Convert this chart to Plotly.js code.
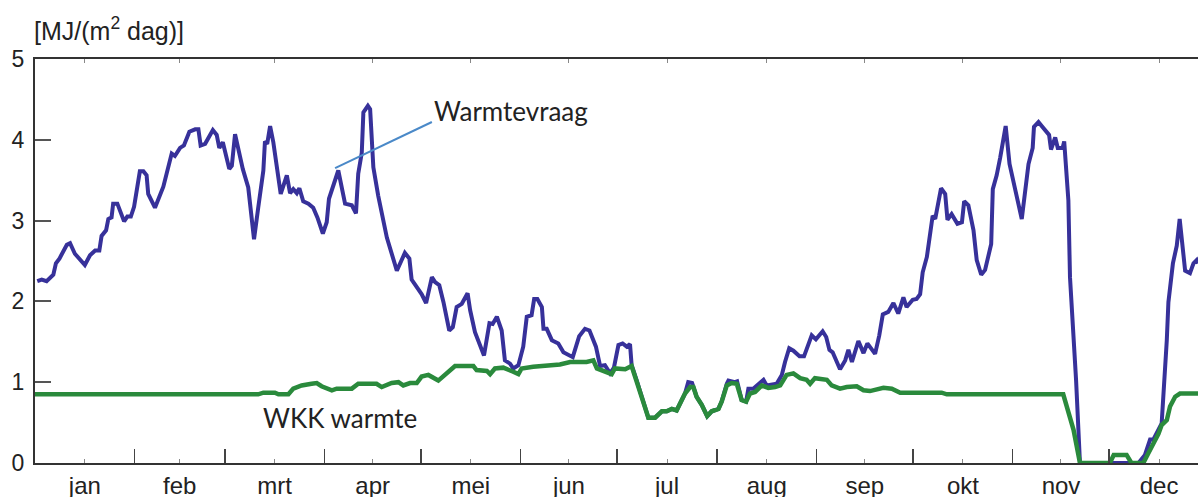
<!DOCTYPE html>
<html>
<head>
<meta charset="utf-8">
<script src="https://cdn.plot.ly/plotly-3.0.1.min.js"></script>
<style>
  body { margin: 0; background: #fff; overflow: hidden; }
  #chart { width: 1198px; height: 497px; }
</style>
</head>
<body>
<div id="chart"></div>
<script>
// maanden
const months = ['jan', 'feb', 'mrt', 'apr', 'mei', 'jun', 'jul', 'aug', 'sep', 'okt', 'nov', 'dec'];
const monthStart = [0, 31, 59, 90, 120, 151, 181, 212, 243, 273, 304, 334];
const monthMid = [15.5, 45, 74.5, 105, 135.5, 166, 196.5, 227.5, 258, 288.5, 319, 349.5];

// warmtevraag (dag van het jaar, MJ/(m2 dag))
const demandDays = [
  0.7, 2.1, 3.6, 5.7, 6.5, 7.6, 9.9, 10.9, 12.4, 14.0, 15.5, 17.1, 18.7, 20.0, 20.7, 22.1, 22.8, 23.8, 24.3, 25.6,
  27.7, 28.7, 29.8, 30.8, 32.6, 33.7, 34.7, 35.2, 37.3, 39.9, 42.0, 42.5, 43.5, 45.1, 46.3, 48.0, 49.8, 50.8, 51.5, 52.9,
  55.3, 56.5, 57.3, 58.4, 60.4, 61.2, 62.2, 64.6, 66.3, 68.1, 69.4, 71.0, 71.5, 72.2, 73.1, 74.1, 76.4, 78.3, 79.3, 80.3,
  81.4, 82.2, 83.4, 85.0, 86.5, 87.8, 89.5, 90.7, 91.4, 94.3, 96.4, 98.5, 99.8, 100.5, 101.6, 102.1, 103.5, 104.2, 105.2, 106.7,
  109.4, 110.9, 112.5, 115.0, 116.4, 117.1, 118.7, 120.2, 121.6, 123.4, 124.4, 125.7, 127.0, 128.8, 129.9, 131.1, 132.7, 134.5, 135.3, 136.8,
  139.6, 141.3, 142.3, 143.6, 145.1, 146.1, 147.7, 148.7, 150.3, 151.8, 152.9, 154.4, 155.2, 156.2, 157.6, 158.1, 159.1, 160.7, 162.7, 164.3,
  167.2, 169.2, 171.0, 172.4, 174.4, 175.7, 177.2, 178.8, 180.0, 181.4, 182.7, 184.0, 185.0, 185.5, 187.1, 188.6, 190.7, 192.8, 194.9, 196.4,
  198.0, 199.5, 202.1, 203.1, 204.3, 205.7, 207.3, 209.0, 210.4, 212.5, 213.5, 215.1, 215.6, 217.6, 218.3, 219.7, 221.1, 221.8, 223.3, 226.5,
  227.5, 230.6, 232.2, 233.2, 234.5, 235.8, 237.7, 239.1, 239.9, 241.5, 242.8, 244.9, 246.0, 247.0, 248.0, 250.3, 251.9, 252.9, 254.0, 256.0,
  257.6, 258.8, 261.2, 262.5, 263.6, 265.3, 266.9, 268.4, 270.0, 271.0, 272.9, 274.1, 275.2, 276.0, 277.3, 279.1, 279.9, 281.7, 283.0, 283.7,
  285.0, 286.8, 288.2, 288.9, 290.2, 291.8, 292.8, 294.2, 295.4, 297.3, 297.8, 299.0, 300.1, 301.8, 303.0, 304.2, 306.8, 308.9, 310.2, 310.6,
  312.0, 313.0, 314.4, 315.3, 315.9, 317.2, 318.0, 319.5, 320.0, 321.3, 321.8, 322.9, 323.7, 324.9, 343.1, 345.1, 346.7, 347.7, 350.3, 351.9,
  352.4, 353.8, 355.0, 355.9, 357.6, 359.1, 360.2, 361.2, 361.6
];
const demandVals = [
  2.25, 2.27, 2.25, 2.33, 2.47, 2.53, 2.70, 2.72, 2.59, 2.52, 2.45, 2.57, 2.63, 2.63, 2.81, 2.88, 3.02, 3.04, 3.21, 3.21,
  2.99, 3.05, 3.05, 3.17, 3.61, 3.61, 3.56, 3.33, 3.16, 3.42, 3.74, 3.83, 3.80, 3.90, 3.93, 4.10, 4.13, 4.13, 3.93, 3.95,
  4.12, 4.06, 3.90, 3.97, 3.64, 3.68, 4.07, 3.64, 3.41, 2.77, 3.16, 3.62, 3.98, 3.95, 4.17, 3.97, 3.33, 3.56, 3.34, 3.39,
  3.34, 3.40, 3.24, 3.21, 3.16, 3.04, 2.84, 2.98, 3.27, 3.62, 3.21, 3.19, 3.09, 3.58, 3.84, 4.34, 4.42, 4.38, 3.66, 3.31,
  2.79, 2.59, 2.38, 2.60, 2.53, 2.27, 2.18, 2.09, 1.98, 2.30, 2.24, 2.20, 1.99, 1.64, 1.68, 1.93, 1.97, 2.10, 1.89, 1.62,
  1.33, 1.73, 1.72, 1.81, 1.64, 1.27, 1.23, 1.17, 1.21, 1.44, 1.81, 1.83, 2.03, 2.03, 1.93, 1.66, 1.66, 1.52, 1.48, 1.37,
  1.31, 1.57, 1.66, 1.64, 1.44, 1.20, 1.21, 1.11, 1.18, 1.46, 1.48, 1.44, 1.47, 1.21, 1.02, 0.82, 0.56, 0.56, 0.64, 0.64,
  0.67, 0.65, 0.86, 1.00, 0.99, 0.82, 0.72, 0.58, 0.64, 0.67, 0.76, 0.98, 1.02, 1.00, 1.01, 0.78, 0.76, 0.92, 0.92, 1.03,
  0.96, 0.98, 1.09, 1.25, 1.42, 1.39, 1.32, 1.32, 1.42, 1.58, 1.53, 1.63, 1.56, 1.40, 1.37, 1.16, 1.27, 1.40, 1.25, 1.51,
  1.36, 1.48, 1.35, 1.58, 1.84, 1.87, 1.98, 1.85, 2.05, 1.93, 2.02, 2.03, 2.09, 2.36, 2.55, 3.06, 3.02, 3.40, 3.33, 3.01,
  3.08, 2.96, 2.98, 3.24, 3.19, 2.88, 2.51, 2.33, 2.39, 2.71, 3.39, 3.56, 3.78, 4.17, 3.70, 3.47, 3.02, 3.70, 3.90, 4.16,
  4.22, 4.17, 4.09, 4.06, 3.88, 4.03, 3.90, 3.90, 3.98, 3.25, 2.30, 1.60, 1.02, 0, 0, 0.10, 0.29, 0.29, 0.49, 1.52,
  1.99, 2.47, 2.69, 3.02, 2.38, 2.35, 2.47, 2.51, 2.47
];

// WKK warmte
const chpDays = [
  0, 69.4, 71.0, 74.6, 75.7, 78.8, 80.3, 82.9, 86.0, 87.6, 89.1, 92.3, 93.8, 98.5, 100.5, 106.2, 107.8, 109.9, 110.9, 113.0,
  114.5, 116.6, 118.7, 120.2, 122.3, 125.4, 127.5, 130.6, 136.3, 137.3, 140.5, 141.5, 143.0, 145.6, 148.7, 150.3, 151.3, 154.9, 163.2, 166.4,
  171.5, 173.6, 174.7, 177.8, 179.3, 180.3, 183.5, 185.5, 187.1, 188.6, 190.7, 192.8, 194.9, 196.4, 198.0, 199.5, 202.1, 203.7, 204.7, 205.7,
  207.3, 209.0, 210.4, 212.5, 213.5, 215.1, 216.6, 218.2, 219.7, 221.1, 222.3, 223.9, 226.0, 228.0, 230.1, 231.7, 233.7, 235.8, 237.9, 239.9,
  241.0, 242.5, 246.2, 247.7, 250.3, 252.4, 255.5, 257.6, 259.6, 263.8, 266.4, 269.0, 281.9, 283.5, 319.7, 321.3, 322.9, 324.9, 334.2, 335.4,
  339.4, 340.9, 344.6, 346.4, 347.7, 349.3, 350.3, 351.9, 352.9, 354.5, 356.0, 361.6
];
const chpVals = [
  0.85, 0.85, 0.87, 0.87, 0.85, 0.85, 0.92, 0.96, 0.98, 0.99, 0.95, 0.90, 0.92, 0.92, 0.98, 0.98, 0.94, 0.98, 0.99, 1.00,
  0.96, 0.99, 0.99, 1.07, 1.09, 1.02, 1.09, 1.20, 1.20, 1.15, 1.14, 1.10, 1.17, 1.18, 1.13, 1.10, 1.17, 1.19, 1.22, 1.25,
  1.25, 1.27, 1.17, 1.13, 1.10, 1.17, 1.16, 1.20, 1.02, 0.82, 0.56, 0.56, 0.64, 0.64, 0.67, 0.65, 0.86, 0.94, 0.94, 0.82,
  0.72, 0.58, 0.64, 0.67, 0.76, 0.96, 0.99, 0.98, 0.78, 0.76, 0.86, 0.88, 0.96, 0.93, 0.94, 0.96, 1.09, 1.11, 1.05, 1.03,
  0.98, 1.05, 1.03, 0.96, 0.92, 0.94, 0.95, 0.90, 0.89, 0.93, 0.92, 0.87, 0.87, 0.85, 0.85, 0.65, 0.41, 0, 0, 0.10,
  0.10, 0, 0, 0.14, 0.24, 0.36, 0.47, 0.53, 0.70, 0.82, 0.86, 0.86
];

const axisFont = { family: 'Liberation Sans, Arial, sans-serif', color: '#222' };
const labelFont = { family: 'Lato, Open Sans, sans-serif', size: 26, color: '#222' };

const traces = [
  {
    x: demandDays, y: demandVals, type: 'scatter', mode: 'lines',
    line: { color: '#37319a', width: 4 }, hoverinfo: 'skip'
  },
  {
    x: chpDays, y: chpVals, type: 'scatter', mode: 'lines',
    line: { color: '#2a8a3c', width: 4.5 }, hoverinfo: 'skip'
  },
  // onzichtbare trace voor de lange maandgrens-streepjes
  {
    x: [0], y: [0], xaxis: 'x2', type: 'scatter', mode: 'markers',
    marker: { opacity: 0 }, hoverinfo: 'skip'
  }
];

const layout = {
  width: 1198,
  height: 497,
  margin: { l: 35, r: 0, t: 59, b: 34 },
  paper_bgcolor: '#fff',
  plot_bgcolor: '#fff',
  showlegend: false,
  xaxis: {
    range: [0, 361.6],
    tickmode: 'array',
    tickvals: monthMid,
    ticktext: months,
    ticks: 'inside',
    ticklen: 4,
    tickwidth: 1,
    tickcolor: '#888',
    showline: true,
    linecolor: '#333',
    linewidth: 2,
    mirror: 'ticks',
    showgrid: false,
    zeroline: false,
    tickfont: Object.assign({ size: 24 }, axisFont),
    fixedrange: true
  },
  xaxis2: {
    overlaying: 'x',
    matches: 'x',
    side: 'bottom',
    tickmode: 'array',
    tickvals: monthStart.slice(1),
    ticks: 'inside',
    ticklen: 14,
    tickwidth: 1.5,
    tickcolor: '#444',
    showticklabels: false,
    showline: false,
    showgrid: false,
    zeroline: false
  },
  yaxis: {
    range: [0, 5],
    tickmode: 'array',
    tickvals: [0, 1, 2, 3, 4, 5],
    ticks: 'inside',
    ticklen: 16,
    tickwidth: 2,
    tickcolor: '#555',
    ticklabelstandoff: 4,
    showline: true,
    linecolor: '#333',
    linewidth: 2,
    showgrid: false,
    zeroline: false,
    tickfont: Object.assign({ size: 23 }, axisFont),
    fixedrange: true
  },
  shapes: [
    {
      type: 'line', xref: 'x', yref: 'y',
      x0: 93.3, y0: 3.65, x1: 123.4, y1: 4.22,
      line: { color: '#4a89c8', width: 2 }
    }
  ],
  annotations: [
    {
      text: '[MJ/(m<sup>2</sup> dag)]',
      xref: 'paper', yref: 'paper', x: 0, y: 1,
      xanchor: 'left', yanchor: 'bottom', yshift: 12, xshift: -3,
      showarrow: false,
      font: Object.assign({ size: 25 }, axisFont)
    },
    {
      text: 'Warmtevraag',
      xref: 'x', yref: 'y', x: 123.4, y: 4.36,
      xanchor: 'left', yanchor: 'middle',
      showarrow: false,
      font: labelFont
    },
    {
      text: 'WKK warmte',
      xref: 'x', yref: 'y', x: 70.2, y: 0.56,
      xanchor: 'left', yanchor: 'middle',
      showarrow: false,
      font: labelFont
    }
  ]
};

Plotly.newPlot('chart', traces, layout, { displayModeBar: false, staticPlot: true });
</script>
</body>
</html>
